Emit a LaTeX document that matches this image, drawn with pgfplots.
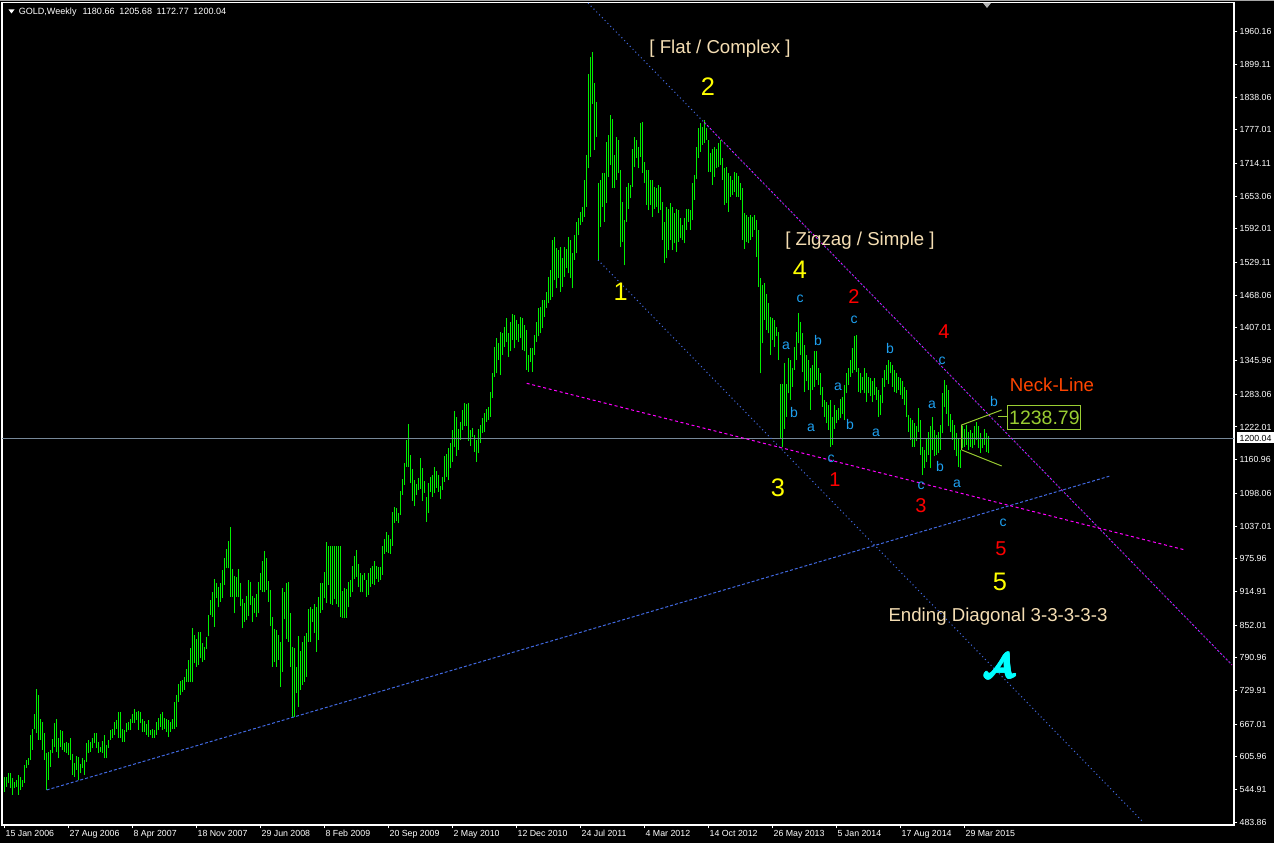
\documentclass[border=0pt]{standalone}
\usepackage{pgfplots}
\pgfplotsset{compat=1.18}
\usepackage{pgfplotstable}
\usepackage{fontspec}
\usepackage{bm}
\setmainfont{Liberation Sans}

\definecolor{barg}{RGB}{0,240,0}
\definecolor{hline}{RGB}{119,136,153}
\definecolor{wheatc}{RGB}{245,222,179}
\definecolor{ltblue}{RGB}{30,160,240}
\definecolor{royal}{RGB}{65,105,225}
\definecolor{neck}{RGB}{255,69,0}
\definecolor{ygreen}{RGB}{154,205,50}
\definecolor{ewred}{RGB}{255,0,0}
\definecolor{ewyel}{RGB}{255,255,0}
\definecolor{magc}{RGB}{255,0,255}
\definecolor{cyanc}{RGB}{0,255,255}

\newcommand{\tickfont}{\fontsize{6.6}{7}\selectfont}
\newcommand{\labfont}{\fontsize{14}{16}\selectfont}

% weekly bars, week 0 = 15 Jan 2006: low, high
\pgfplotstableread{
w l h
0 541 569
1 550 569
2 557 575
3 547 575
4 535 566
5 547 560
6 550 563
7 535 572
8 544 569
9 550 563
10 557 591
11 585 600
12 591 603
13 600 647
14 619 659
15 659 687
16 650 732
17 638 722
18 638 676
19 619 672
20 600 650
21 544 613
22 563 616
23 588 619
24 613 639
25 625 670
26 616 676
27 603 641
28 625 657
29 619 655
30 616 631
31 613 633
32 609 631
33 600 641
34 572 611
35 569 594
36 582 608
37 562 605
38 575 593
39 585 603
40 572 601
41 597 631
42 613 638
43 616 634
44 622 641
45 631 650
46 622 651
47 613 633
48 616 625
49 613 636
50 603 647
51 603 628
52 622 638
53 638 656
54 641 659
55 647 672
56 659 674
57 641 690
58 641 689
59 634 659
60 634 656
61 653 669
62 656 672
63 656 676
64 670 687
65 670 695
66 675 690
67 657 692
68 669 690
69 653 677
70 653 673
71 647 667
72 644 675
73 647 657
74 641 659
75 641 656
76 647 672
77 656 678
78 662 687
79 656 689
80 659 678
81 653 676
82 643 674
83 653 672
84 659 676
85 659 709
86 661 722
87 709 742
88 722 748
89 728 750
90 731 756
91 746 771
92 745 787
93 745 809
94 745 846
95 781 834
96 774 827
97 778 840
98 790 840
99 784 818
100 787 812
101 807 830
102 831 871
103 871 899
104 868 914
105 849 938
106 902 930
107 885 924
108 896 930
109 902 955
110 927 977
111 958 994
112 958 1010
113 905 1035
114 904 956
115 874 943
116 905 941
117 904 956
118 887 930
119 846 900
120 858 893
121 862 906
122 869 936
123 890 933
124 858 906
125 874 902
126 868 911
127 874 933
128 918 950
129 914 971
130 913 990
131 918 977
132 896 935
133 850 918
134 774 868
135 784 844
136 774 843
137 787 834
138 737 821
139 765 921
140 863 913
141 827 930
142 821 933
143 774 875
144 681 812
145 681 809
146 725 774
147 700 831
148 731 804
149 740 821
150 746 832
151 755 838
152 821 883
153 821 885
154 858 883
155 837 891
156 802 886
157 824 905
158 875 931
159 881 930
160 902 952
161 893 1007
162 927 1000
163 891 1000
164 890 1000
165 900 1000
166 891 1000
167 886 1000
168 867 1000
169 865 916
170 865 921
171 865 919
172 885 933
173 905 936
174 913 963
175 939 981
176 942 992
177 924 966
178 913 949
179 913 946
180 936 949
181 905 936
182 908 949
183 924 958
184 929 962
185 927 972
186 939 963
187 933 961
188 936 961
189 946 1000
190 985 1012
191 989 1025
192 986 1020
193 985 1012
194 1000 1064
195 1043 1072
196 1047 1070
197 1042 1062
198 1058 1103
199 1095 1124
200 1114 1154
201 1148 1198
202 1148 1228
203 1118 1170
204 1084 1143
205 1074 1123
206 1095 1116
207 1104 1126
208 1107 1164
209 1083 1145
210 1099 1122
211 1045 1092
212 1062 1118
213 1101 1129
214 1092 1132
215 1098 1147
216 1109 1140
217 1101 1132
218 1087 1112
219 1104 1129
220 1120 1167
221 1129 1172
222 1123 1182
223 1145 1192
224 1157 1216
225 1185 1251
226 1168 1241
227 1179 1219
228 1198 1232
229 1216 1254
230 1223 1266
231 1224 1265
232 1195 1266
233 1187 1216
234 1204 1221
235 1176 1207
236 1157 1198
237 1173 1219
238 1192 1226
239 1211 1238
240 1212 1248
241 1232 1255
242 1236 1259
243 1241 1288
244 1276 1322
245 1316 1372
246 1322 1388
247 1347 1378
248 1319 1400
249 1356 1397
250 1372 1409
251 1381 1425
252 1353 1397
253 1363 1419
254 1384 1433
255 1369 1431
256 1384 1422
257 1381 1415
258 1388 1427
259 1366 1425
260 1363 1412
261 1328 1403
262 1325 1357
263 1344 1369
264 1325 1369
265 1356 1394
266 1381 1419
267 1391 1444
268 1397 1447
269 1406 1459
270 1428 1459
271 1444 1475
272 1453 1503
273 1459 1515
274 1465 1571
275 1496 1577
276 1481 1556
277 1500 1553
278 1475 1559
279 1484 1537
280 1503 1559
281 1518 1554
282 1509 1577
283 1500 1571
284 1481 1546
285 1534 1580
286 1546 1605
287 1580 1612
288 1599 1624
289 1605 1633
290 1615 1683
291 1633 1730
292 1705 1882
293 1727 1913
294 1826 1923
295 1739 1864
296 1764 1829
297 1534 1677
298 1596 1683
299 1633 1696
300 1605 1696
301 1640 1755
302 1689 1767
303 1711 1805
304 1668 1798
305 1668 1730
306 1683 1764
307 1696 1758
308 1559 1702
309 1568 1643
310 1524 1608
311 1605 1671
312 1630 1677
313 1649 1674
314 1671 1742
315 1708 1764
316 1724 1758
317 1705 1745
318 1727 1789
319 1696 1792
320 1677 1717
321 1637 1702
322 1627 1702
323 1637 1683
324 1615 1683
325 1630 1671
326 1633 1668
327 1621 1674
328 1627 1671
329 1571 1643
330 1528 1605
331 1537 1633
332 1553 1630
333 1571 1640
334 1553 1633
335 1565 1621
336 1549 1630
337 1568 1627
338 1574 1612
339 1571 1599
340 1565 1612
341 1590 1630
342 1605 1630
343 1590 1627
344 1608 1677
345 1646 1693
346 1686 1745
347 1724 1780
348 1736 1789
349 1749 1783
350 1752 1796
351 1758 1780
352 1699 1758
353 1699 1733
354 1674 1742
355 1689 1745
356 1705 1742
357 1708 1752
358 1711 1758
359 1683 1724
360 1637 1705
361 1640 1708
362 1624 1696
363 1652 1690
364 1655 1683
365 1661 1699
366 1652 1696
367 1652 1690
368 1646 1677
369 1571 1668
370 1555 1622
371 1568 1618
372 1565 1615
373 1571 1618
374 1577 1615
375 1590 1618
376 1540 1608
377 1484 1590
378 1322 1500
379 1378 1487
380 1422 1490
381 1403 1471
382 1397 1453
383 1356 1428
384 1384 1425
385 1372 1422
386 1391 1409
387 1347 1400
388 1201 1303
389 1185 1303
390 1219 1341
391 1241 1303
392 1285 1350
393 1272 1347
394 1297 1332
395 1328 1372
396 1347 1400
397 1378 1434
398 1356 1419
399 1325 1397
400 1288 1375
401 1307 1356
402 1291 1347
403 1254 1332
404 1291 1338
405 1297 1363
406 1310 1363
407 1300 1332
408 1282 1322
409 1260 1297
410 1241 1272
411 1229 1269
412 1216 1263
413 1185 1272
414 1188 1241
415 1219 1263
416 1229 1253
417 1235 1257
418 1238 1275
419 1247 1278
420 1235 1300
421 1285 1322
422 1300 1332
423 1316 1347
424 1322 1369
425 1328 1391
426 1325 1394
427 1288 1332
428 1285 1322
429 1291 1316
430 1285 1332
431 1269 1322
432 1285 1316
433 1279 1313
434 1269 1307
435 1282 1313
436 1272 1297
437 1241 1291
438 1244 1282
439 1266 1313
440 1297 1328
441 1310 1338
442 1303 1347
443 1322 1344
444 1297 1338
445 1288 1328
446 1285 1322
447 1291 1316
448 1282 1313
449 1275 1307
450 1263 1297
451 1241 1291
452 1213 1245
453 1198 1238
454 1185 1235
455 1185 1229
456 1195 1223
457 1213 1257
458 1170 1235
459 1132 1185
460 1145 1179
461 1157 1201
462 1170 1213
463 1145 1223
464 1179 1241
465 1167 1216
466 1170 1207
467 1173 1213
468 1179 1226
469 1210 1285
470 1260 1310
471 1247 1300
472 1223 1291
473 1213 1247
474 1198 1235
475 1179 1226
476 1167 1210
477 1148 1201
478 1145 1179
479 1182 1223
480 1185 1219
481 1188 1226
482 1179 1213
483 1185 1216
484 1182 1210
485 1188 1223
486 1197 1232
487 1182 1223
488 1173 1210
489 1182 1201
490 1188 1219
491 1176 1210
492 1172.77 1205.68
}\bars

\begin{document}
\begin{tikzpicture}
% background, 1 px = 0.75 pt, picture 1274 x 843 px
\fill[black] (0,0) rectangle (955.5pt,632.25pt);
\fill[gray!70] (0,631.5pt) rectangle (955.5pt,632.25pt);

\begin{axis}[
  at={(1.5pt,13.5pt)}, anchor=south west,
  scale only axis, width=924pt, height=616.875pt,
  xmin=-1.15, xmax=614.85, ymin=478.8, ymax=2014.7,
  axis line style={white, line width=0.9pt},
  tick style={white, line width=0.75pt},
  tick align=outside, major tick length=2.5pt,
  xtick pos=bottom, ytick pos=right, yticklabel pos=right,
  xtick={0,32,...,480},
  xticklabels={15 Jan 2006,27 Aug 2006,8 Apr 2007,18 Nov 2007,29 Jun 2008,
    8 Feb 2009,20 Sep 2009,2 May 2010,12 Dec 2010,24 Jul 2011,4 Mar 2012,
    14 Oct 2012,26 May 2013,5 Jan 2014,17 Aug 2014,29 Mar 2015},
  ytick={483.86,544.91,605.96,667.01,729.91,790.96,852.01,914.91,975.96,
    1037.01,1098.06,1160.96,1222.01,1283.06,1345.96,1407.01,1468.06,
    1529.11,1592.01,1653.06,1714.11,1777.01,1838.06,1899.11,1960.16},
  yticklabels={483.86,544.91,605.96,667.01,729.91,790.96,852.01,914.91,975.96,
    1037.01,1098.06,1160.96,1222.01,1283.06,1345.96,1407.01,1468.06,
    1529.11,1592.01,1653.06,1714.11,1777.01,1838.06,1899.11,1960.16},
  ticklabel style={font=\tickfont, text=white},
  yticklabel style={anchor=west, inner sep=0pt, xshift=1.5pt},
  xticklabel style={anchor=north west, inner sep=0pt, xshift=0.8pt, yshift=-1pt},
]
% price bars (high-low)
\addplot[draw=none, mark=none, forget plot,
  error bars/.cd, y dir=plus, y explicit, error mark=none,
  error bar style={draw=barg, line width=0.75pt}]
  table[x=w, y=l, y error expr=\thisrow{h}-\thisrow{l}] {\bars};

% current price line
\addplot[hline, line width=0.75pt] coordinates {(-1.15,1200.04) (614.85,1200.04)};
% long-term support
\addplot[royal, line width=0.75pt, dash pattern=on 2.25pt off 1.5pt]
  coordinates {(21.2,544.2) (552.85,1130.5)};
% channel lines
\addplot[royal, line width=0.75pt, dash pattern=on 0.8pt off 2.2pt]
  coordinates {(291.85,2013.75) (613.85,777.6)};
\addplot[magc, line width=0.75pt, dash pattern=on 0.8pt off 2.2pt, dash phase=1.5pt]
  coordinates {(349.35,1793.4) (613.85,777.6)};
\addplot[royal, line width=0.75pt, dash pattern=on 0.8pt off 2.2pt]
  coordinates {(296.85,1533.9) (569.35,484.4)};
% neck line
\addplot[magc, line width=0.75pt, dash pattern=on 2.25pt off 2pt]
  coordinates {(261.2,1303.6) (590.35,992.4)};
% ending triangle
\addplot[ygreen, line width=0.75pt] coordinates {(478.7,1179.1) (478.7,1225.8) (498.7,1253.8)};
\addplot[ygreen, line width=0.75pt] coordinates {(478.7,1179.1) (498.7,1149.2)};
\addplot[ygreen, line width=0.75pt] coordinates {(496.85,1240.7) (501.85,1240.7)};
\end{axis}

% annotations in pixel coordinates of the picture
\begin{scope}[shift={(0,632.25pt)}, x=0.75pt, y=-0.75pt]
  \fill[white] (8.5,9.5) -- (14.5,9.5) -- (11.5,13.5) -- cycle;
  \node[anchor=west, inner sep=0pt, text=white, font=\fontsize{6.8}{7}\selectfont] at (18.5,12)
    {GOLD,Weekly\hspace{4.5pt}1180.66\hspace{1.6pt} 1205.68\hspace{1.6pt} 1172.77\hspace{1.6pt} 1200.04};
  \fill[gray!60] (983,3) -- (991,3) -- (987,8) -- cycle;
  \node[fill=white, text=black, font=\tickfont, inner sep=0pt,
    minimum width=27.75pt, minimum height=8.25pt] at (1255.5,438) {1200.04};

  \node[text=wheatc, font=\labfont] at (720,49) {[ Flat / Complex ]};
  \node[text=wheatc, font=\labfont] at (860,241) {[ Zigzag / Simple ]};
  \node[text=wheatc, font=\labfont] at (998,617) {Ending Diagonal 3-3-3-3-3};
  \node[text=neck, font=\labfont] at (1052,385) {Neck-Line};
  \node[draw=ygreen, line width=0.75pt, text=ygreen, font=\fontsize{14.6}{16}\selectfont,
    minimum width=54.75pt, minimum height=18pt, inner sep=0pt] at (1044.4,417.9) {1238.79};

  \foreach \x/\y/\t in {708/86.5/2, 800/270/4, 620.7/292/1, 778/488/3, 1000/582/5}
    \node[text=ewyel, font=\fontsize{19}{20}\selectfont] at (\x,\y) {\t};
  \foreach \x/\y/\t in {854/297/2, 944/332/4, 835/480/1, 921/506/3, 1001/549/5}
    \node[text=ewred, font=\fontsize{15}{16}\selectfont] at (\x,\y) {\t};
  \foreach \x/\y/\t in {800/299/c, 786/346/a, 818/340/b, 794/412/b, 811/428/a,
      831/459/c, 854/320/c, 838/387/a, 850/424/b, 876/433/a, 890/348/b,
      942/361/c, 932/405/a, 940/466/b, 921/486/c, 957/484/a, 994/401/b, 1003/523/c}
    \node[text=ltblue, font=\fontsize{10.5}{11}\selectfont] at (\x,\y) {\t};

  % logo, drawn a few times with small offsets to thicken the strokes
  \foreach \dx/\dy in {0/0, 1/0, -1/0, 0/1, 0/-1, 0.7/0.7, -0.7/-0.7, 0.7/-0.7, -0.7/0.7}
    \node[text=cyanc, font=\fontsize{50}{50}\selectfont] at (999+\dx,666+\dy) {$\bm{\mathcal{A}}$};
\end{scope}
\pgfresetboundingbox
\path[use as bounding box] (0,0) rectangle (955.5pt,632.25pt);
\end{tikzpicture}
\end{document}
